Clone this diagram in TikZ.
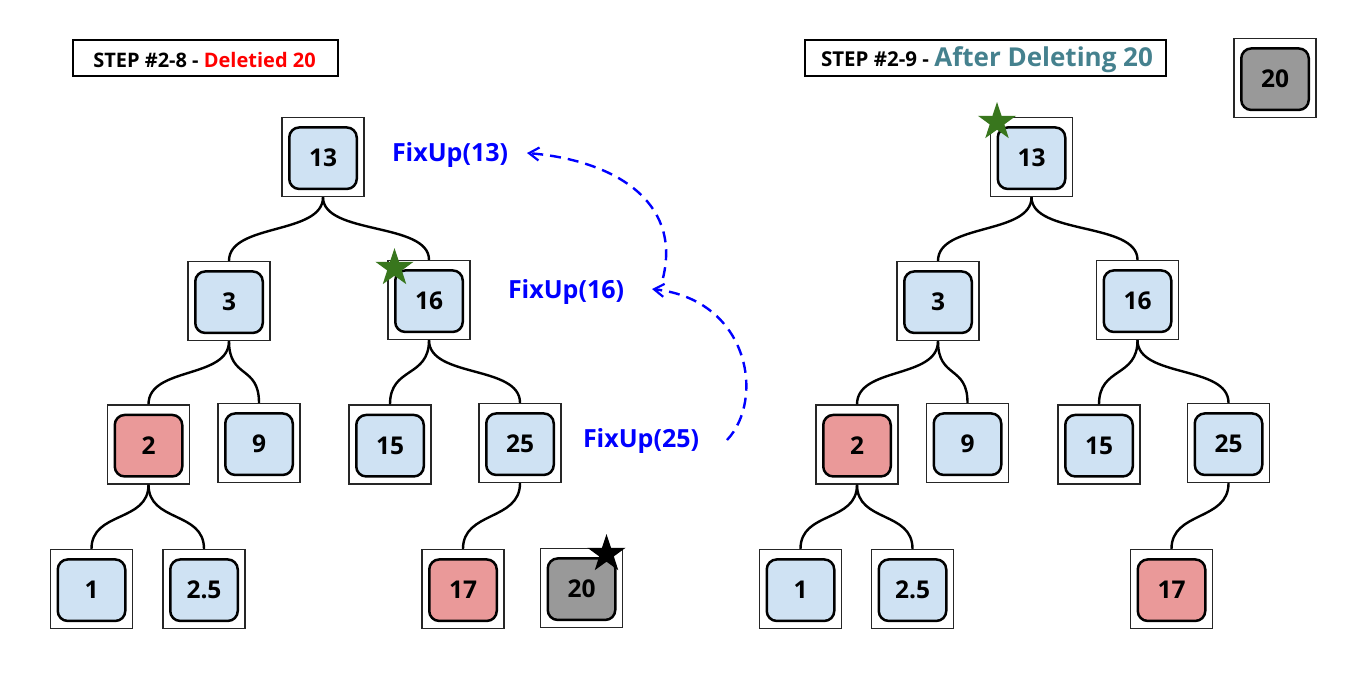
\documentclass[tikz,border=0pt]{standalone}
\usepackage{fontspec}
\setmainfont{Open Sans}
\usetikzlibrary{shapes.geometric,arrows.meta}
\definecolor{nblue}{HTML}{CFE2F3}
\definecolor{nred}{HTML}{EA9999}
\definecolor{ngray}{HTML}{999999}
\definecolor{sgreen}{HTML}{38761D}
\definecolor{tteal}{HTML}{45818E}
\definecolor{fblue}{HTML}{0000FF}
\tikzset{
  outerbox/.style={draw=black!85, line width=1.3pt, fill=white, minimum width=82pt, minimum height=79pt, inner sep=0pt},
  innerbox/.style={draw=black, line width=2.5pt, rounded corners=10pt, minimum width=67.5pt, minimum height=61.5pt, inner sep=0pt, font=\bfseries\fontsize{24.5}{28}\selectfont},
  link/.style={line width=2.4pt, black},
  fixlabel/.style={text=fblue, font=\bfseries\fontsize{25}{30}\selectfont, inner sep=0pt},
  fixarrow/.style={draw=fblue, line width=2.4pt, dash pattern=on 11pt off 7pt, -{Straight Barb[length=10pt,width=13pt,line width=2.2pt]}},
  titlebox/.style={draw=black, line width=1.6pt, fill=white, minimum height=36pt, inner sep=0pt},
  titletext/.style={inner sep=0pt, font=\bfseries\fontsize{20}{24}\selectfont},
  starmark/.style={star, star points=5, star point ratio=2.6, minimum size=40pt, inner sep=0pt, draw=none}
}
\newcommand{\tnode}[4]{%
  \node[outerbox] (#1) at (#2) {};
  \node[innerbox, fill=#4, yshift=-1.2pt] (#1i) at (#2) {#3};}
\newcommand{\tlink}[2]{%
  \draw[link] (#1.south) .. controls +(0,38) and +(0,-38) .. (#2.north);}
\begin{document}
\begin{tikzpicture}[x=1pt,y=-1pt]
\useasboundingbox (0,0) rectangle (1351,681);
\fill[white] (0,0) rectangle (1351,681);
% titles
\node[titlebox, minimum width=265pt] (t1) at (205.5,58) {};
\node[titletext] (t1t) at (204.5,60) {STEP \#2-8 - \textcolor{red}{Deletied 20}};
\node[titlebox, minimum width=361pt] (t2) at (985.5,58) {};
\node[titletext] (t2t) at (987,60) {\fontsize{20.5}{24}\selectfont STEP \#2-9 - \textcolor{tteal}{\fontsize{26}{30}\selectfont After Deleting 20}};
% left tree
\tnode{l13}{323,157}{13}{nblue}
\tnode{l3}{229,301}{3}{nblue}
\tnode{l16}{429,300}{16}{nblue}
\tnode{l2}{148.5,444.5}{2}{nred}
\tnode{l9}{259,443}{9}{nblue}
\tnode{l15}{390,444.5}{15}{nblue}
\tnode{l25}{520,443}{25}{nblue}
\tnode{l1}{91.5,589}{1}{nblue}
\tnode{l2b}{204,589}{2.5}{nblue}
\tnode{l17}{463,589}{17}{nred}
\tnode{l20}{581.5,588}{20}{ngray}
\tlink{l13}{l3}
\tlink{l13}{l16}
\tlink{l3}{l2}
\tlink{l3}{l9}
\tlink{l16}{l15}
\tlink{l16}{l25}
\tlink{l2}{l1}
\tlink{l2}{l2b}
\tlink{l25}{l17}
% right tree
\tnode{r13}{1031.5,157}{13}{nblue}
\tnode{r3}{938,301}{3}{nblue}
\tnode{r16}{1137.5,300}{16}{nblue}
\tnode{r2}{857,444.5}{2}{nred}
\tnode{r9}{967.5,443}{9}{nblue}
\tnode{r15}{1099,444.5}{15}{nblue}
\tnode{r25}{1228.5,443}{25}{nblue}
\tnode{r1}{800.5,589}{1}{nblue}
\tnode{r2b}{912.5,589}{2.5}{nblue}
\tnode{r17}{1171.5,589}{17}{nred}
\tnode{r20}{1275,78}{20}{ngray}
\tlink{r13}{r3}
\tlink{r13}{r16}
\tlink{r3}{r2}
\tlink{r3}{r9}
\tlink{r16}{r15}
\tlink{r16}{r25}
\tlink{r2}{r1}
\tlink{r2}{r2b}
\tlink{r25}{r17}
% stars
\node[starmark, fill=sgreen] (s1) at (394.5,268) {};
\node[starmark, fill=black] (s2) at (606.5,554) {};
\node[starmark, fill=sgreen] (s3) at (997,122) {};
% fixup labels
\node[fixlabel] (f13) at (450,155) {FixUp(13)};
\node[fixlabel] (f16) at (566,292) {FixUp(16)};
\node[fixlabel] (f25) at (641,441) {FixUp(25)};
\coordinate (a1s) at (663,278);
\coordinate (a1e) at (527,153);
\coordinate (a2s) at (727,440);
\coordinate (a2e) at (652,289);
\draw[fixarrow] (a1s) .. controls (682,200) and (612,160) .. (a1e);
\draw[fixarrow] (a2s) .. controls (765,400) and (750,300) .. (a2e);
\end{tikzpicture}
\end{document}
